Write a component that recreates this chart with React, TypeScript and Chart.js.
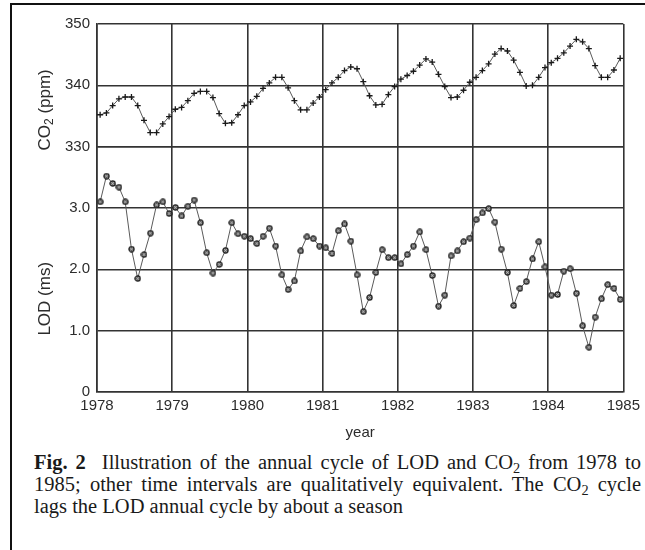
import React, { useEffect, useRef } from 'react';
import { Chart, registerables } from 'chart.js';

Chart.register(...registerables);

// ---------- data ----------
const START_YEAR = 1978;
const END_YEAR = 1985;
const MONTHS_PER_YEAR = 12;

// monthly CO2 (ppm), Jan 1978 .. Dec 1984
const co2Ppm = [
  335.2, 335.5, 336.7, 337.8, 338.1, 338.1, 336.7, 334.3, 332.3, 332.3, 333.7, 334.9,
  336.1, 336.4, 337.5, 338.7, 339.0, 339.0, 338.0, 335.4, 333.8, 333.9, 335.2, 336.7,
  337.3, 338.2, 339.5, 340.4, 341.3, 341.3, 339.6, 337.5, 336.0, 336.0, 337.1, 338.1,
  339.3, 340.4, 341.3, 342.4, 343.0, 342.7, 340.6, 338.3, 336.8, 336.9, 338.5, 339.8,
  341.0, 341.6, 342.3, 343.3, 344.3, 343.8, 341.8, 339.8, 338.0, 338.1, 339.2, 340.5,
  341.3, 342.4, 343.5, 345.1, 346.0, 345.6, 344.1, 342.1, 339.9, 340.0, 341.3, 342.9,
  343.7, 344.4, 345.3, 346.4, 347.5, 347.1, 346.0, 343.2, 341.3, 341.3, 342.5, 344.4,
];

// monthly LOD (ms), Jan 1978 .. Dec 1984
const lodMs = [
  3.10, 3.52, 3.40, 3.34, 3.10, 2.33, 1.85, 2.24, 2.59, 3.05, 3.10, 2.91,
  3.01, 2.87, 3.03, 3.13, 2.76, 2.27, 1.94, 2.08, 2.31, 2.76, 2.58, 2.54,
  2.50, 2.42, 2.54, 2.67, 2.38, 1.91, 1.67, 1.81, 2.30, 2.53, 2.50, 2.38,
  2.35, 2.26, 2.63, 2.74, 2.46, 1.91, 1.31, 1.54, 1.95, 2.32, 2.19, 2.19,
  2.09, 2.24, 2.38, 2.61, 2.32, 1.90, 1.40, 1.58, 2.22, 2.30, 2.45, 2.51,
  2.81, 2.92, 2.99, 2.77, 2.33, 1.95, 1.41, 1.69, 1.80, 2.17, 2.45, 2.04,
  1.58, 1.59, 1.97, 2.01, 1.61, 1.08, 0.73, 1.22, 1.52, 1.75, 1.69, 1.51,
];

const LOD_MIN = 0;
const LOD_MAX = 4;
const LOD_STEP = 1;
const CO2_MIN = 330;
const CO2_MAX = 350;
const CO2_STEP = 10;

const X_TITLE = 'year';
const CO2_TITLE = ['CO', '2', ' (ppm)'];
const LOD_TITLE = 'LOD (ms)';

// ---------- style ----------
const INK = '#2c2c2c';
const GRID = '#333333';
const SANS = '"Liberation Sans", Arial, Helvetica, sans-serif';
const SERIF = '"Liberation Serif", "Times New Roman", Times, serif';

function makeLodMarker(): HTMLCanvasElement {
  const c = document.createElement('canvas');
  c.width = 7;
  c.height = 7;
  const g = c.getContext('2d')!;
  g.fillStyle = '#6e6e6e';
  g.strokeStyle = '#1e1e1e';
  g.lineWidth = 1.2;
  g.beginPath();
  g.arc(3.5, 3.5, 2.6, 0, Math.PI * 2);
  g.fill();
  g.stroke();
  g.strokeStyle = '#cfcfcf';
  g.lineWidth = 0.7;
  g.beginPath();
  g.moveTo(2.1, 2.1);
  g.lineTo(4.9, 4.9);
  g.moveTo(4.9, 2.1);
  g.lineTo(2.1, 4.9);
  g.stroke();
  return c;
}

const sideTitles = {
  id: 'sideTitles',
  afterDraw(chart: any) {
    const ctx = chart.ctx as CanvasRenderingContext2D;
    const sCO2 = chart.scales.yCO2;
    const sLOD = chart.scales.yLOD;
    const big = `17px ${SANS}`;
    const small = `12px ${SANS}`;
    ctx.save();
    ctx.fillStyle = INK;
    ctx.textBaseline = 'middle';
    ctx.textAlign = 'left';

    // CO2 (ppm)
    const yc = sCO2.getPixelForValue(336);
    ctx.save();
    ctx.translate(45, yc);
    ctx.rotate(-Math.PI / 2);
    ctx.font = big;
    const w0 = ctx.measureText(CO2_TITLE[0]).width;
    const w2 = ctx.measureText(CO2_TITLE[2]).width;
    ctx.font = small;
    const w1 = ctx.measureText(CO2_TITLE[1]).width;
    let x = -(w0 + w1 + w2) / 2;
    ctx.font = big;
    ctx.fillText(CO2_TITLE[0], x, 0);
    x += w0;
    ctx.font = small;
    ctx.fillText(CO2_TITLE[1], x, 5);
    x += w1;
    ctx.font = big;
    ctx.fillText(CO2_TITLE[2], x, 0);
    ctx.restore();

    // LOD (ms)
    const yl = sLOD.getPixelForValue(1.52);
    ctx.save();
    ctx.translate(45, yl);
    ctx.rotate(-Math.PI / 2);
    ctx.font = big;
    ctx.textAlign = 'center';
    ctx.fillText(LOD_TITLE, 0, 0);
    ctx.restore();

    ctx.restore();
  },
};

export default function App() {
  const ref = useRef<HTMLCanvasElement>(null);

  useEffect(() => {
    if (!ref.current) return;
    const monthX = (i: number) => START_YEAR + (i + 0.5) / MONTHS_PER_YEAR;
    const tickFont = { family: SANS, size: 15 };
    const grid = { color: GRID, lineWidth: 1.6, drawTicks: false };
    const border = { color: GRID, width: 1.6 };

    const chart = new Chart(ref.current, {
      type: 'line',
      data: {
        datasets: [
          {
            label: 'CO2',
            yAxisID: 'yCO2',
            data: co2Ppm.map((v, i) => ({ x: monthX(i), y: v })),
            borderColor: '#5a5a5a',
            borderWidth: 1,
            pointStyle: 'cross',
            pointRadius: 3,
            pointBorderColor: '#1a1a1a',
            pointBorderWidth: 1.3,
            tension: 0,
          },
          {
            label: 'LOD',
            yAxisID: 'yLOD',
            data: lodMs.map((v, i) => ({ x: monthX(i), y: v })),
            borderColor: '#5a5a5a',
            borderWidth: 1,
            pointStyle: makeLodMarker() as any,
            pointRadius: 3,
            tension: 0,
          },
        ],
      },
      options: {
        responsive: false,
        animation: false,
        events: [],
        layout: { padding: { top: 24, right: 19, left: 0, bottom: 0 } },
        plugins: { legend: { display: false }, tooltip: { enabled: false } },
        scales: {
          x: {
            type: 'linear',
            min: START_YEAR,
            max: END_YEAR,
            afterFit: (s: any) => {
              s.height = 53;
            },
            ticks: {
              stepSize: 1,
              autoSkip: false,
              maxRotation: 0,
              padding: 5,
              color: INK,
              font: tickFont,
              callback: (v: any) => String(v),
            },
            grid,
            border,
            title: {
              display: true,
              text: X_TITLE,
              color: INK,
              font: { family: SANS, size: 15 },
              padding: { top: 0, bottom: 3 },
            },
          },
          yCO2: {
            type: 'linear',
            position: 'left',
            stack: 'left',
            stackWeight: 2,
            weight: 1,
            min: CO2_MIN,
            max: CO2_MAX,
            afterFit: (s: any) => {
              s.width = 97;
            },
            ticks: {
              stepSize: CO2_STEP,
              padding: 7,
              color: INK,
              font: tickFont,
              callback: (v: any) => String(v),
            },
            grid,
            border,
          },
          yLOD: {
            type: 'linear',
            position: 'left',
            stack: 'left',
            stackWeight: 4,
            weight: 0,
            min: LOD_MIN,
            max: LOD_MAX,
            afterFit: (s: any) => {
              s.width = 97;
            },
            ticks: {
              stepSize: LOD_STEP,
              padding: 7,
              color: INK,
              font: tickFont,
              callback: (v: any) => (v === 0 ? '0' : v >= LOD_MAX ? '' : Number(v).toFixed(1)),
            },
            grid,
            border,
          },
        },
      } as any,
      plugins: [sideTitles],
    });
    return () => chart.destroy();
  }, []);

  const sub = { fontSize: '0.7em', verticalAlign: '-0.3em', lineHeight: 0 } as const;
  const lineStyle = {
    textAlign: 'justify' as const,
    textAlignLast: 'justify' as const,
  };

  return (
    <div style={{ position: 'fixed', left: 0, top: 0, width: 645, height: 550, background: '#fff', overflow: 'hidden' }}>
      <div style={{ position: 'absolute', left: 10, top: 3, width: 640, height: 2, background: '#111' }} />
      <div style={{ position: 'absolute', left: 10, top: 3, width: 2, height: 550, background: '#111' }} />
      <canvas ref={ref} width={645} height={445} style={{ position: 'absolute', left: 0, top: 0, width: 645, height: 445 }} />
      <div
        style={{
          position: 'absolute',
          left: 34,
          top: 451,
          width: 607,
          fontFamily: SERIF,
          fontSize: 20.5,
          lineHeight: '22px',
          color: '#1a1a1a',
        }}
      >
        <div style={lineStyle}>
          <b>Fig. 2</b>&nbsp; Illustration of the annual cycle of LOD and CO<sub style={sub}>2</sub> from 1978 to
        </div>
        <div style={lineStyle}>
          1985; other time intervals are qualitatively equivalent. The CO<sub style={sub}>2</sub> cycle
        </div>
        <div>lags the LOD annual cycle by about a season</div>
      </div>
    </div>
  );
}
